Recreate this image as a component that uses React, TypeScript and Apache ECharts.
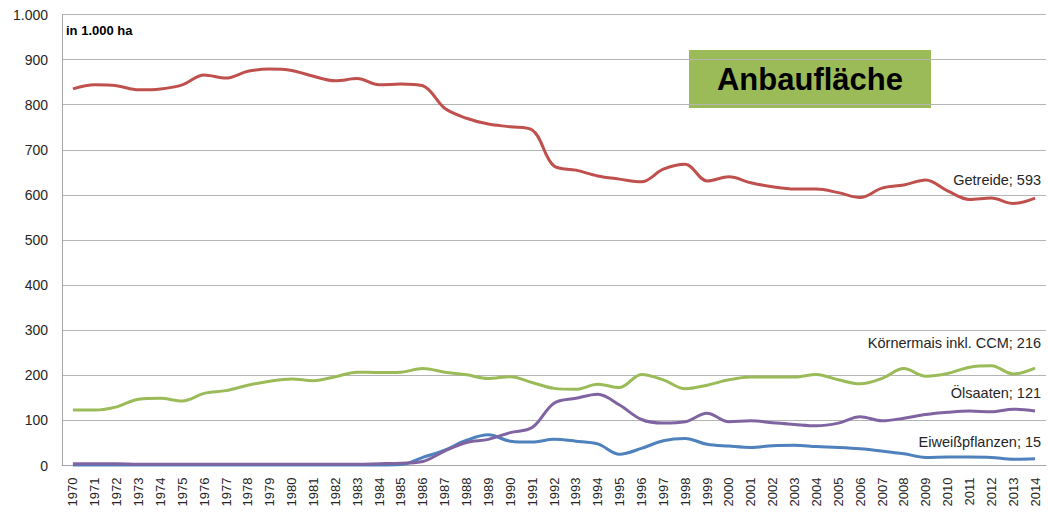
import React, { useEffect, useRef } from "react";
import * as echarts from "echarts";

const years: string[] = [];
for (let y = 1970; y <= 2014; y++) years.push(String(y));

const getreide = [835, 844, 842, 833, 835, 844, 866, 859, 874, 879, 876, 863, 853, 858, 844, 846, 842, 792, 770, 757, 751, 744, 664, 655, 642, 635, 629, 657, 668, 631, 640, 627, 618, 613, 613, 605, 594, 615, 622, 633, 609, 590, 593, 581, 593];
const koernermais = [123, 123, 130, 147, 149, 143, 160, 166, 178, 187, 192, 188, 197, 207, 206, 207, 215, 207, 201, 193, 197, 184, 171, 169, 180, 173, 202, 190, 170, 178, 190, 196, 196, 196, 202, 190, 181, 193, 215, 198, 204, 218, 221, 203, 216];
const oelsaaten = [4, 4, 4, 3, 3, 3, 3, 3, 3, 3, 3, 3, 3, 3, 4, 5, 9, 32, 51, 58, 73, 84, 138, 149, 158, 134, 102, 94, 97, 116, 97, 99, 95, 91, 88, 94, 108, 99, 105, 113, 118, 121, 119, 125, 121];
const eiweiss = [1, 1, 1, 1, 1, 1, 1, 1, 1, 1, 1, 1, 1, 1, 1, 2, 18, 34, 56, 68, 54, 52, 58, 54, 48, 25, 38, 55, 60, 47, 43, 40, 44, 45, 42, 40, 37, 32, 26, 18, 19, 19, 18, 14, 15];

const FONT = "'Liberation Sans', Arial, sans-serif";

function mkSeries(name: string, data: number[], color: string, dy: number) {
  return {
    name,
    type: "line",
    data,
    smooth: 0.35,
    symbol: "none",
    clip: false,
    lineStyle: { width: 3, color },
    itemStyle: { color },
    endLabel: {
      show: true,
      formatter: (p: any) => `${p.seriesName}; ${p.value}`,
      align: "right",
      verticalAlign: "middle",
      distance: 0,
      offset: [6, dy],
      fontSize: 14.5,
      fontFamily: FONT,
      color: "#262626",
    },
    z: 3,
  };
}

export default function App() {
  const ref = useRef<HTMLDivElement>(null);
  useEffect(() => {
    document.body.style.margin = "0";
    const chart = echarts.init(ref.current!, null, { renderer: "svg" });
    chart.setOption({
      animation: false,
      backgroundColor: "#ffffff",
      grid: { left: 62, right: 2, top: 14.5, bottom: 46.5, containLabel: false },
      xAxis: {
        type: "category",
        data: years,
        boundaryGap: true,
        axisLine: { lineStyle: { color: "#A6A6A6", width: 1 } },
        axisTick: { show: false },
        axisLabel: { rotate: 90, fontSize: 13, fontFamily: FONT, color: "#262626", margin: 12, interval: 0 },
      },
      yAxis: {
        type: "value",
        min: 0,
        max: 1000,
        interval: 100,
        axisLine: { show: true, lineStyle: { color: "#A6A6A6" } },
        axisTick: { show: false },
        splitLine: { lineStyle: { color: "#B4B4B4", width: 1 } },
        axisLabel: {
          fontSize: 14,
          fontFamily: FONT,
          color: "#262626",
          margin: 14,
          formatter: (v: number) => (v >= 1000 ? "1.000" : String(v)),
        },
      },
      graphic: [
        {
          type: "text",
          left: 66,
          top: 24,
          style: { text: "in 1.000 ha", font: `bold 13px ${FONT}`, fill: "#000" },
        },
        {
          type: "group",
          left: 689,
          top: 50,
          children: [
            { type: "rect", shape: { x: 0, y: 0, width: 242, height: 58 }, style: { fill: "#9BBB59" } },
            {
              type: "text",
              x: 121,
              y: 29,
              style: { text: "Anbaufläche", font: `bold 31px ${FONT}`, fill: "#000", align: "center", verticalAlign: "middle" },
            },
          ],
        },
      ],
      series: [
        mkSeries("Getreide", getreide, "#C0504D", -18),
        mkSeries("Körnermais inkl. CCM", koernermais, "#9BBB59", -25),
        mkSeries("Eiweißpflanzen", eiweiss, "#4F81BD", -17),
        mkSeries("Ölsaaten", oelsaaten, "#8064A2", -18),
      ],
    });
    return () => chart.dispose();
  }, []);
  return <div ref={ref} style={{ width: 1048, height: 512 }} />;
}
